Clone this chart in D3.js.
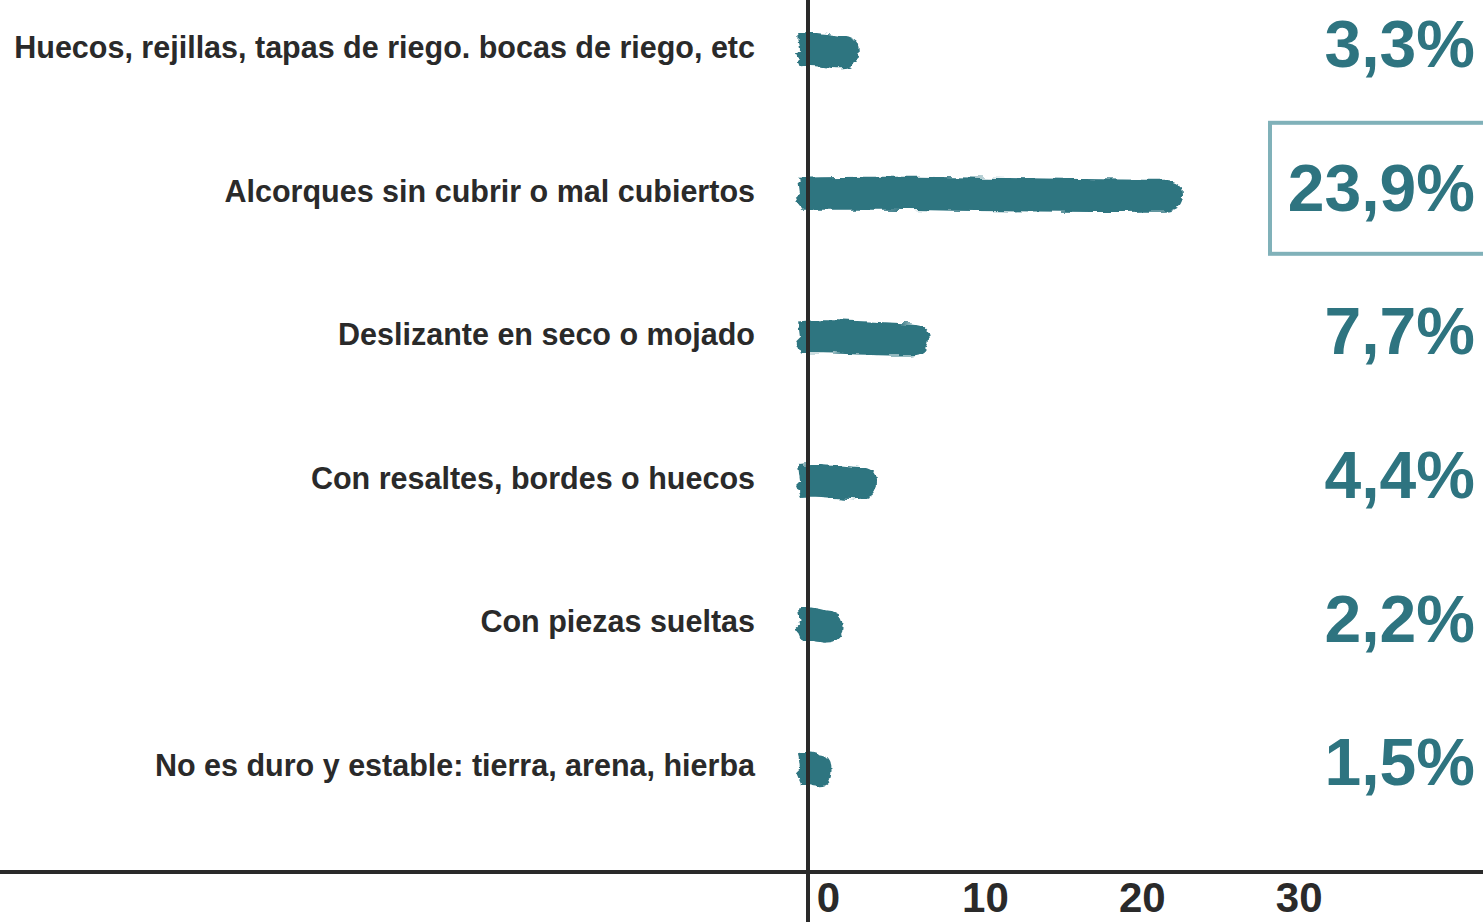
<!DOCTYPE html>
<html>
<head>
<meta charset="utf-8">
<script src="https://cdn.jsdelivr.net/npm/d3@7"></script>
<style>
  html, body { margin: 0; padding: 0; background: #ffffff; overflow: hidden; }
  svg { display: block; }
</style>
</head>
<body>
<svg id="chart" width="1483" height="922"></svg>
<script>
// ---- data ----
const categories = [
  "Huecos, rejillas, tapas de riego. bocas de riego, etc",
  "Alcorques sin cubrir o mal cubiertos",
  "Deslizante en seco o mojado",
  "Con resaltes, bordes o huecos",
  "Con piezas sueltas",
  "No es duro y estable: tierra, arena, hierba"
];
const values = [3.3, 23.9, 7.7, 4.4, 2.2, 1.5];
const valueLabels = ["3,3%", "23,9%", "7,7%", "4,4%", "2,2%", "1,5%"];
const tickValues = [0, 10, 20, 30];
const highlighted = "Alcorques sin cubrir o mal cubiertos";

// ---- setup ----
const W = 1483, H = 922;
const svg = d3.select("#chart");
const teal = "#2e7480";
const dark = "#2a2a2a";
const font = "'Liberation Sans', Arial, Helvetica, sans-serif";

const x = d3.scaleLinear().domain([0, 30]).range([808, 808 + 30 * 15.69]);
const y = d3.scaleBand().domain(categories).range([-23.6, 838]).padding(0);
const barH = 36;

// brush filter
const defs = svg.append("defs");
const f = defs.append("filter").attr("id", "brush")
  .attr("x", "-10%").attr("y", "-40%").attr("width", "120%").attr("height", "180%");
f.append("feTurbulence").attr("type", "fractalNoise")
  .attr("baseFrequency", "0.06 0.18").attr("numOctaves", 2).attr("seed", 7).attr("result", "noise");
f.append("feDisplacementMap").attr("in", "SourceGraphic").attr("in2", "noise")
  .attr("scale", 7).attr("xChannelSelector", "R").attr("yChannelSelector", "G").attr("result", "disp");
f.append("feGaussianBlur").attr("in", "disp").attr("stdDeviation", 0.5);

function brushPath(x0, x1, cy, h) {
  const len = x1 - x0;
  const r = Math.min(h / 2, len * 0.35);
  const t = cy - h / 2, b = cy + h / 2;
  const p = d3.path();
  p.moveTo(x0, t + 2);
  p.bezierCurveTo(x0 + len * 0.3, t - 1, x0 + len * 0.55, t + 3, x1 - r, t + 4);
  p.quadraticCurveTo(x1, t + 5, x1, cy + 1);
  p.quadraticCurveTo(x1, b, x1 - r, b);
  p.bezierCurveTo(x0 + len * 0.6, b + 1, x0 + len * 0.3, b - 3, x0 + 3, b - 2);
  p.lineTo(x0 - 2, cy + 4);
  p.lineTo(x0 + 2, cy);
  p.closePath();
  return p.toString();
}

// bars
svg.append("g").selectAll("path")
  .data(categories)
  .join("path")
  .attr("d", (c, i) => brushPath(x(0) - 10, x(values[i]), y(c) + y.bandwidth() / 2 + 2, barH))
  .attr("fill", teal)
  .attr("filter", "url(#brush)");

// category labels
const yAxis = svg.append("g")
  .attr("transform", "translate(763,0)")
  .call(d3.axisLeft(y).tickSize(0).tickPadding(8));
yAxis.select(".domain").remove();
yAxis.selectAll("text")
  .attr("font-family", font).attr("font-weight", "bold")
  .attr("font-size", 30.5).attr("fill", dark);

// vertical axis line
svg.append("line")
  .attr("x1", x(0)).attr("x2", x(0)).attr("y1", 0).attr("y2", H)
  .attr("stroke", dark).attr("stroke-width", 4);

// horizontal axis
svg.append("line")
  .attr("x1", 0).attr("x2", W).attr("y1", 872).attr("y2", 872)
  .attr("stroke", dark).attr("stroke-width", 4);
const xAxis = svg.append("g")
  .attr("transform", "translate(0,872)")
  .call(d3.axisBottom(x).tickValues(tickValues).tickSize(0).tickFormat(d3.format("d")));
xAxis.select(".domain").remove();
xAxis.selectAll("text")
  .attr("y", 40).attr("dy", 0).attr("dx", 20)
  .attr("font-family", font).attr("font-weight", "bold")
  .attr("font-size", 42).attr("fill", dark);

// value labels
svg.append("g").selectAll("text")
  .data(categories)
  .join("text")
  .attr("x", 1475)
  .attr("y", c => y(c) + y.bandwidth() / 2 + 19)
  .attr("text-anchor", "end")
  .attr("font-family", font).attr("font-weight", "bold")
  .attr("font-size", 66).attr("fill", teal)
  .text((c, i) => valueLabels[i]);

// highlight box
svg.append("rect")
  .attr("x", 1270)
  .attr("y", y(highlighted) + y.bandwidth() / 2 - 69)
  .attr("width", 240).attr("height", 131)
  .attr("fill", "none").attr("stroke", "#80b1b9").attr("stroke-width", 4);
</script>
</body>
</html>
